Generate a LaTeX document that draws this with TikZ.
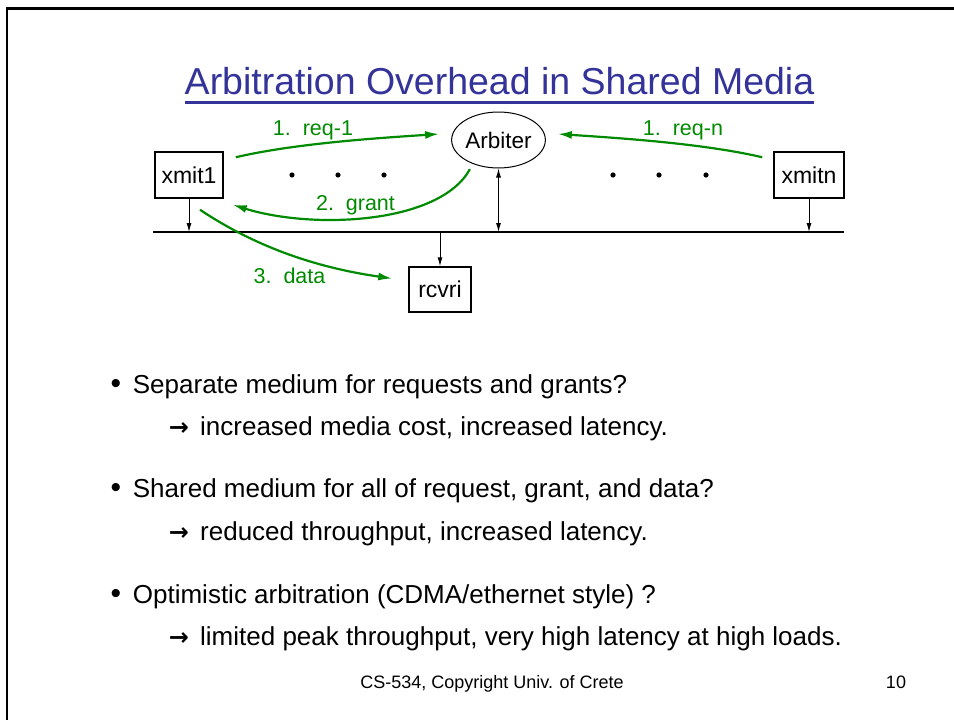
\documentclass[tikz,border=0pt]{standalone}
\usepackage{fontspec}
\setmainfont{Liberation Sans}
\newfontfamily\arrowfont{DejaVu Sans}
\usepackage{tikz}
\usetikzlibrary{shapes.geometric, arrows.meta, calc}
\definecolor{sgreen}{HTML}{008A00}
\definecolor{sblue}{HTML}{333399}
\tikzset{
  unit/.style={rectangle, draw, line width=1.5pt, minimum height=46pt, inner sep=0pt,
               font=\fontsize{23}{26}\selectfont},
  arbiter/.style={ellipse, draw, line width=1pt, minimum width=93pt, minimum height=56pt,
                  inner sep=0pt, font=\fontsize{22.5}{25}\selectfont},
  tap/.style={-{Latex[length=9pt,width=5pt]}, line width=1pt},
  duplex/.style={{Latex[length=9pt,width=5pt]}-{Latex[length=9pt,width=5pt]}, line width=1pt},
  bus/.style={line width=2pt},
  gflow/.style={-{Latex[length=14pt,width=8pt]}, draw=sgreen, line width=2.2pt},
  glabel/.style={anchor=base, inner sep=0pt, text=sgreen, font=\fontsize{21.5}{24}\selectfont},
  point/.style={anchor=base west, inner sep=0pt, font=\fontsize{26}{30}\selectfont},
  dotmark/.style={anchor=center, inner sep=0pt, font=\fontsize{30}{32}\selectfont},
  hint/.style={anchor=base, inner sep=0pt, font=\arrowfont\bfseries\fontsize{24}{26}\selectfont},
  foot/.style={anchor=base, inner sep=0pt, font=\fontsize{18}{20}\selectfont}
}
\begin{document}
\begin{tikzpicture}[x=1pt, y=-1pt]
  \useasboundingbox (0,0) rectangle (954,720);
  \draw[line width=2.5pt] (7,720) -- (7,8.7) -- (954,8.7);

  \node[anchor=base, inner sep=0pt, text=sblue, font=\fontsize{37.5}{40}\selectfont]
    (title) at (499.5,94) {Arbitration Overhead in Shared Media};
  \draw[sblue, line width=3pt] ([shift={(0,8)}]title.base west) -- ([shift={(0,8)}]title.base east);

  \node[unit, minimum width=68pt] (xmit1) at (189,175) {xmit1};
  \node[arbiter] (arb) at (498.5,140) {Arbiter};
  \node[unit, minimum width=70pt] (xmitn) at (809,175) {xmitn};
  \node[unit, minimum width=62pt, minimum height=45pt] (rcvri) at (440,289.5) {rcvri};

  \coordinate (busL) at (153,232);
  \coordinate (busR) at (844,232);
  \draw[bus] (busL) -- (busR);

  \draw[tap] (xmit1) -- (xmit1 |- busL);
  \draw[duplex] (arb) -- (arb |- busL);
  \draw[tap] (xmitn) -- (xmitn |- busL);
  \draw[tap] (rcvri |- busL) -- (rcvri);

  \foreach \x in {292,338,384,613,659,706}
    \fill (\x,175) circle (2.6pt);

  \draw[gflow] ([shift={(12,6)}]xmit1.north east) .. controls +(60,-14) and +(-60,4) .. ([shift={(-12,-6)}]arb.west);
  \draw[gflow] ([shift={(-11,6)}]xmitn.north west) .. controls +(-60,-14) and +(60,4) .. ([shift={(12,-6)}]arb.east);
  \draw[gflow] ([shift={(-1,6)}]arb.220) .. controls +(-30,55) and +(80,25) .. ([shift={(9,6)}]xmit1.south east);
  \draw[gflow] ([shift={(11,11)}]xmit1.south) .. controls +(60,40) and +(-70,-10) .. ([shift={(-16,-11)}]rcvri.west);

  \node[glabel] (req1) at (313,135) {1.~~req-1};
  \node[glabel] (reqn) at (683,135) {1.~~req-n};
  \node[glabel] (grant) at (355.5,210) {2.~~grant};
  \node[glabel] (data) at (289.5,283) {3.~~data};

  \node[dotmark] (m1) at (116,386) {•};
  \node[point] (p1) at (132.7,393) {Separate medium for requests and grants?};
  \node[hint] (h1) at (179,435) {→};
  \node[point] (s1) at (200,435) {increased media cost, increased latency.};

  \node[dotmark] (m2) at (116,490) {•};
  \node[point] (p2) at (132.7,497) {Shared medium for all of request, grant, and data?};
  \node[hint] (h2) at (179,540) {→};
  \node[point] (s2) at (200,540) {reduced throughput, increased latency.};

  \node[dotmark] (m3) at (116,596) {•};
  \node[point] (p3) at (132.7,603) {Optimistic arbitration (CDMA/ethernet style) ?};
  \node[hint] (h3) at (179,645) {→};
  \node[point] (s3) at (200,645) {limited peak throughput, very high latency at high loads.};

  \node[foot] (copy) at (492,688) {CS-534, Copyright Univ. of Crete};
  \node[foot] (page) at (896,688) {10};
\end{tikzpicture}
\end{document}
